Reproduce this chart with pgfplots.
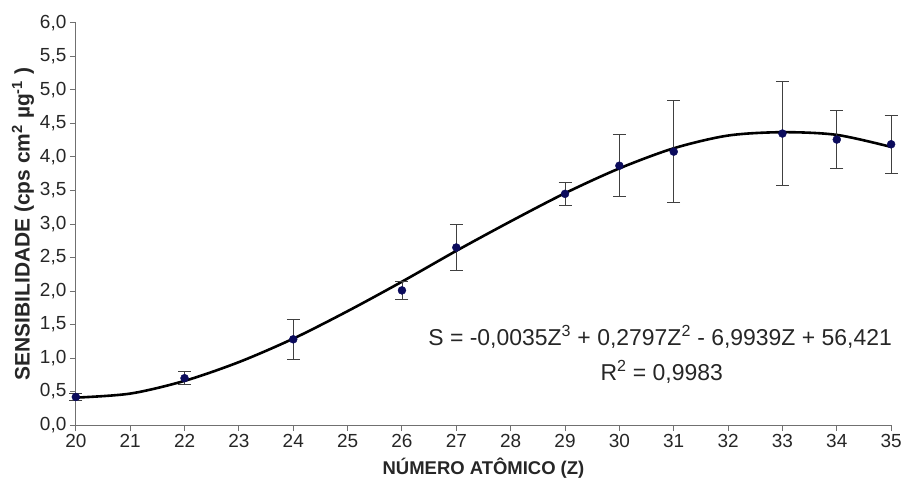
\documentclass[border=0pt]{standalone}
\usepackage{fontspec}
\setmainfont{Liberation Sans}
\usepackage{pgfplots}
\pgfplotsset{compat=1.18}
\definecolor{navy}{HTML}{0B0B5C}
\definecolor{axgray}{HTML}{707070}

\begin{document}
\begin{tikzpicture}
\begin{axis}[
  name=ax, scale only axis, width=817pt, height=403pt,
  xmin=20, xmax=35, ymin=0, ymax=6,
  xtick={20,...,35}, ytick={0,0.5,...,6},
  axis lines=left, axis line style={-, axgray, line width=1pt},
  tick style={axgray, line width=1pt}, tick align=outside, major tick length=6pt,
  /pgf/number format/assume math mode=true,
  y tick label style={/pgf/number format/.cd, fixed, fixed zerofill, precision=1, use comma},
  ticklabel style={font=\fontsize{19}{19}\selectfont, text=black!85},
  xlabel={\textbf{NÚMERO ATÔMICO (Z)}},
  ylabel={\textbf{SENSIBILIDADE (cps cm\textsuperscript{2} µg\textsuperscript{-1} )}},
  xlabel style={font=\fontsize{18.5}{18.5}\selectfont, text=black!85, yshift=-3pt},
  ylabel style={font=\fontsize{21}{21}\selectfont, text=black!85, yshift=-1pt},
  clip=false,
]
% fitted curve
\addplot[black, line width=2.6pt, smooth] coordinates {
  (20,0.41) (21,0.47) (22,0.66) (23,0.94) (24,1.29) (25,1.70) (26,2.14)
  (27,2.60) (28,3.04) (29,3.46) (30,3.83) (31,4.13) (32,4.32) (33,4.37)
  (34,4.33) (35,4.15)};
% measured points
\addplot[only marks, mark=*, mark size=4pt, mark options={fill=navy, draw=navy},
  error bars/.cd, y dir=both, y explicit,
  error bar style={black!75, line width=0.9pt},
  error mark options={rotate=90, mark size=6.5pt, black!75, line width=0.9pt}]
  table[x=z, y=s, y error=e] {
  z  s    e
  20 0.42 0.05
  22 0.70 0.10
  24 1.28 0.30
  26 2.01 0.14
  27 2.65 0.35
  29 3.45 0.17
  30 3.87 0.46
  31 4.08 0.76
  33 4.35 0.77
  34 4.26 0.43
  35 4.19 0.43
};
\node[font=\fontsize{23}{23}\selectfont, text=black!85] at (axis cs:30.75,1.32)
  {S = -0,0035Z\textsuperscript{3} + 0,2797Z\textsuperscript{2} - 6,9939Z + 56,421};
\node[font=\fontsize{23}{23}\selectfont, text=black!85] at (axis cs:30.78,0.80)
  {R\textsuperscript{2} = 0,9983};
\end{axis}
\path (ax.south west) ++(-76pt,-49pt);
\path (ax.north east) ++(12pt,23pt);
\end{tikzpicture}
\end{document}
